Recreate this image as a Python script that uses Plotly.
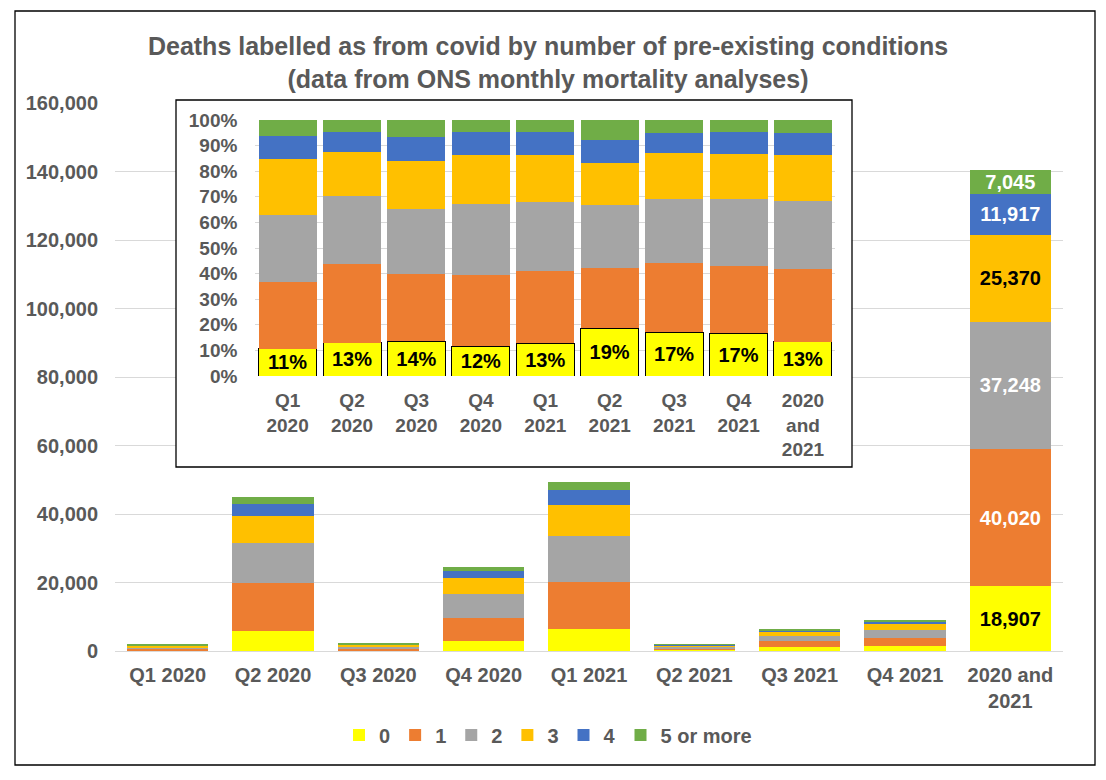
import plotly.graph_objects as go

# ---------------- data ----------------
categories = ["Q1 2020", "Q2 2020", "Q3 2020", "Q4 2020", "Q1 2021",
              "Q2 2021", "Q3 2021", "Q4 2021", "2020 and 2021"]
main_tick_labels = ["Q1 2020", "Q2 2020", "Q3 2020", "Q4 2020", "Q1 2021",
                    "Q2 2021", "Q3 2021", "Q4 2021", "2020 and<br>2021"]
inset_tick_labels = ["Q1<br>2020", "Q2<br>2020", "Q3<br>2020", "Q4<br>2020",
                     "Q1<br>2021", "Q2<br>2021", "Q3<br>2021", "Q4<br>2021",
                     "2020<br>and<br>2021"]

series_names = ["0", "1", "2", "3", "4", "5 or more"]
cond_0 = [198, 5850, 286, 2878, 6323, 353, 1094, 1503, 18907]
cond_1 = [483, 13905, 554, 6839, 13931, 448, 1728, 2376, 40020]
cond_2 = [483, 11880, 529, 6814, 13338, 467, 1600, 2340, 37248]
cond_3 = [405, 7740, 395, 4699, 9040, 312, 1152, 1584, 25370]
cond_4 = [168, 3510, 197, 2214, 4446, 171, 499, 774, 11917]
cond_5 = [113, 2115, 139, 1156, 2322, 148, 326, 423, 7045]

y_ticks_main = [0, 20000, 40000, 60000, 80000, 100000, 120000, 140000, 160000]
y_ticks_inset = [0, 10, 20, 30, 40, 50, 60, 70, 80, 90, 100]
y_tick_labels_inset = ["0%", "10%", "20%", "30%", "40%", "50%",
                       "60%", "70%", "80%", "90%", "100%"]

# ---------------- styling ----------------
colors = ["#FFFF00", "#ED7D31", "#A5A5A5", "#FFC000", "#4472C4", "#70AD47"]
label_colors = ["black", "white", "white", "black", "white", "white"]
GREY = "#595959"
GRID = "#D9D9D9"
FONT = "Liberation Sans, Arial, sans-serif"

all_series = [cond_0, cond_1, cond_2, cond_3, cond_4, cond_5]
totals = [sum(s[i] for s in all_series) for i in range(len(categories))]

fig = go.Figure()

# main stacked bars
last = len(categories) - 1
for k, (name, vals) in enumerate(zip(series_names, all_series)):
    txt = ["" for _ in vals]
    txt[last] = f"{vals[last]:,}"
    fig.add_trace(go.Bar(
        x=categories, y=vals, name=name, marker=dict(color=colors[k], line=dict(width=0)),
        width=0.77, xaxis="x", yaxis="y", text=txt, textposition="inside",
        insidetextanchor="middle", textangle=0, constraintext="none",
        textfont=dict(family=FONT, size=20, color=label_colors[k], weight="bold"),
        hoverinfo="skip", showlegend=True,
    ))

# dummy trace for the white inset panel subplot
fig.add_trace(go.Scatter(x=[], y=[], xaxis="x2", yaxis="y2", showlegend=False,
                         hoverinfo="skip"))

# inset percentage bars
for k, (name, vals) in enumerate(zip(series_names, all_series)):
    pct = [v / t * 100 for v, t in zip(vals, totals)]
    if k == 0:
        txt = [f"{round(p):d}%" for p in pct]
        line = dict(color="black", width=1)
    else:
        txt = None
        line = dict(width=0)
    fig.add_trace(go.Bar(
        x=categories, y=pct, name=name, marker=dict(color=colors[k], line=line),
        width=0.9, xaxis="x3", yaxis="y3", text=txt, textposition="inside" if txt else None,
        insidetextanchor="middle", textangle=0, constraintext="none",
        textfont=dict(family=FONT, size=20, color="black", weight="bold"),
        hoverinfo="skip", showlegend=False,
    ))

# page offset (browser body margin) of 8px
OFF = 8
W, H = 1106 - OFF, 780 - OFF
L, R, T, B = 115 - OFF, 43, 95 - OFF, 129
pw, ph = W - L - R, H - T - B


def gx(px):  # reference screen x -> paper fraction
    return (px - OFF - L) / pw


def fy(py):  # reference screen y -> paper fraction
    return (H - B - (py - OFF)) / ph


tick_font = dict(family=FONT, size=20, color=GREY, weight="bold")
inset_font = dict(family=FONT, size=19, color=GREY, weight="bold")

fig.update_layout(
    width=W, height=H,
    margin=dict(l=L, r=R, t=T, b=B, autoexpand=False),
    paper_bgcolor="white", plot_bgcolor="rgba(0,0,0,0)",
    barmode="stack",
    title=dict(
        text="Deaths labelled as from covid by number of pre-existing conditions<br>"
             "(data from ONS monthly mortality analyses)",
        font=dict(family=FONT, size=25, color=GREY, weight="bold"),
        x=(548 - OFF) / W, xanchor="center", xref="container",
        y=1 - (55 - OFF) / H, yanchor="middle", yref="container",
    ),
    xaxis=dict(domain=[0, 1], anchor="y", tickvals=categories, ticktext=main_tick_labels,
               tickfont=tick_font, showline=True, linecolor=GRID, linewidth=1,
               showgrid=False, ticks="", ticklabelstandoff=6),
    yaxis=dict(domain=[0, fy(103)], anchor="x", range=[0, 160000], tickvals=y_ticks_main,
               tickformat=",d", tickfont=tick_font, showgrid=True, gridcolor=GRID,
               gridwidth=1, zeroline=False, showline=False, ticks="",
               ticklabelstandoff=16),
    xaxis2=dict(domain=[gx(176), gx(852)], anchor="y2", range=[0, 1], visible=False,
                fixedrange=True),
    yaxis2=dict(domain=[fy(467), fy(100)], anchor="x2", range=[0, 1], visible=False,
                fixedrange=True),
    xaxis3=dict(domain=[gx(255.4), gx(835.2)], anchor="y3", tickvals=categories,
                ticktext=inset_tick_labels, tickfont=inset_font, showgrid=False,
                showline=False, ticks="", ticklabelstandoff=11),
    yaxis3=dict(domain=[fy(376), fy(120)], anchor="x3", range=[0, 100],
                tickvals=y_ticks_inset, ticktext=y_tick_labels_inset, tickfont=inset_font,
                showgrid=True, gridcolor=GRID, gridwidth=1, zeroline=False, ticks="",
                ticklabelstandoff=17),
    legend=dict(orientation="h", xref="container", yref="container",
                x=(548 - OFF) / W, xanchor="center", y=1 - (735 - OFF) / H, yanchor="middle",
                font=dict(family=FONT, size=20, color=GREY, weight="bold"),
                traceorder="normal", bgcolor="rgba(0,0,0,0)"),
    shapes=[
        # white panel of the inset (drawn in inset-panel subplot, above main grid)
        dict(type="rect", xref="x2", yref="y2", x0=0, x1=1, y0=0, y1=1,
             fillcolor="white", line=dict(width=0), layer="below"),
        # inset border
        dict(type="rect", xref="paper", yref="paper", x0=gx(176), x1=gx(852),
             y0=fy(467), y1=fy(100), line=dict(color="black", width=1.3),
             fillcolor="rgba(0,0,0,0)", layer="above"),
        # outer chart border
        dict(type="rect", xref="paper", yref="paper", x0=gx(15), x1=gx(1095),
             y0=fy(765), y1=fy(11), line=dict(color="black", width=1.3),
             fillcolor="rgba(0,0,0,0)", layer="above"),
    ],
    hovermode=False,
)

fig.write_html("out.html")
